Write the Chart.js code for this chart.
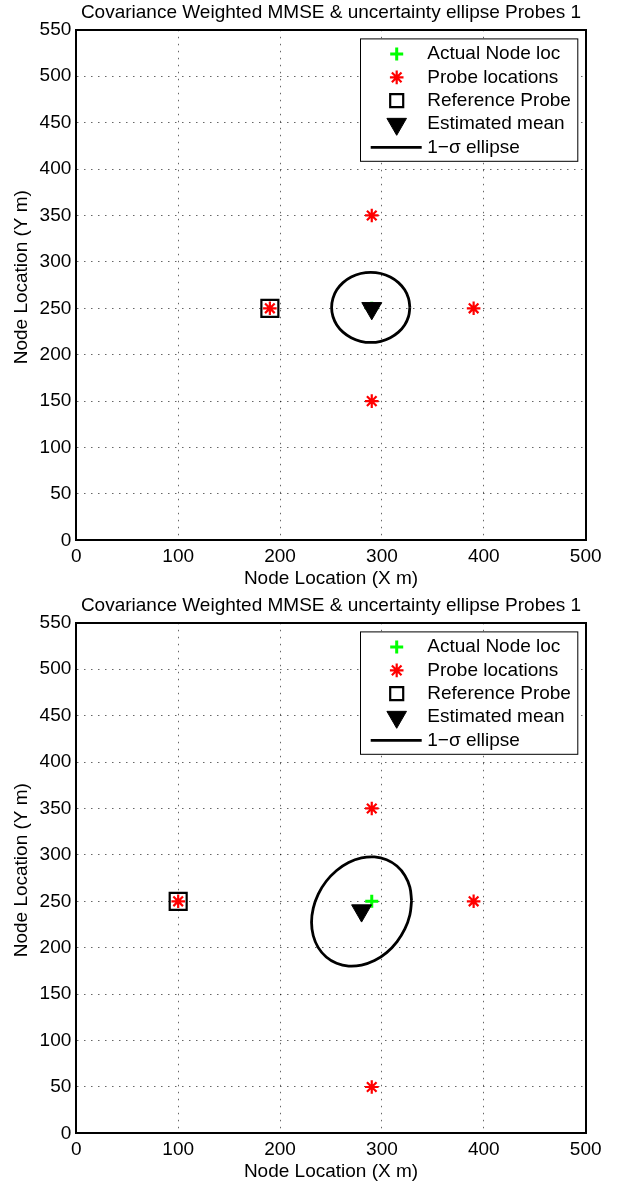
<!DOCTYPE html>
<html>
<head>
<meta charset="utf-8">
<script src="https://cdn.jsdelivr.net/npm/chart.js"></script>
<style>
  html, body { margin: 0; padding: 0; background: #fff; overflow: hidden; }
  .plot { position: absolute; left: 0; width: 626px; height: 593px; }
</style>
</head>
<body>
<div class="plot" style="top:0px"><canvas id="plotTop" width="626" height="593"></canvas></div>
<div class="plot" style="top:593px"><canvas id="plotBottom" width="626" height="593"></canvas></div>
<script>
// axis ticks and texts
const xTicks = [0, 100, 200, 300, 400, 500]
const yTicks = [0, 50, 100, 150, 200, 250, 300, 350, 400, 450, 500, 550]
const plotTitle = 'Covariance Weighted MMSE & uncertainty ellipse Probes 1'
const xTitle = 'Node Location (X m)'
const yTitle = '   Node Location (Y m)'   // leading spaces push it up a bit, like the matlab one
const legendLabels = ['Actual Node loc', 'Probe locations', 'Reference Probe', 'Estimated mean', '1\u2212\u03c3 ellipse']

// top plot
const actualTop = [[290, 250]]
const probesTop = [[190, 250], [290, 350], [390, 250], [290, 150]]
const refProbeTop = [[190, 250]]
const meanTop = [[290, 250]]
const ellipseTopX = [327.4, 326.1, 322.3, 316.2, 308.2, 298.9, 289.0, 279.1, 269.8, 261.8, 255.7, 251.9, 250.6,
    251.9, 255.7, 261.8, 269.8, 279.1, 289.0, 298.9, 308.2, 316.2, 322.3, 326.1, 327.4]
const ellipseTopY = [251.0, 260.8, 269.9, 277.7, 283.7, 287.5, 288.8, 287.5, 283.7, 277.7, 269.9, 260.8, 251.0,
    241.2, 232.1, 224.3, 218.3, 214.5, 213.2, 214.5, 218.3, 224.3, 232.1, 241.2, 251.0]

// bottom plot
const actualBottom = [[290, 250]]
const probesBottom = [[100, 250], [290, 350], [390, 250], [290, 50]]
const refProbeBottom = [[100, 250]]
const meanBottom = [[280, 240]]
const ellipseBottomX = [329.1, 327.4, 322.5, 314.7, 304.6, 292.7, 280.0, 267.3, 255.5, 245.3, 237.5, 232.6, 230.9,
    232.6, 237.5, 245.3, 255.5, 267.3, 280.0, 292.7, 304.6, 314.7, 322.5, 327.4, 329.1]
const ellipseBottomY = [250.6, 265.2, 277.9, 288.0, 294.8, 297.8, 296.7, 291.8, 283.2, 271.6, 257.8, 242.7, 227.4,
    212.9, 200.1, 190.0, 183.2, 180.2, 181.3, 186.2, 194.8, 206.4, 220.2, 235.3, 250.6]


Chart.defaults.font.family = '"Liberation Sans", Arial, Helvetica, sans-serif'
Chart.defaults.font.size = 19
Chart.defaults.color = '#000'

const toPts = (arr) => arr.map(p => ({ x: p[0], y: p[1] }))
const toXY = (xs, ys) => xs.map((x, i) => ({ x: x, y: ys[i] }))

// marker look for the legend (square is smaller there)
const legendMarkers = [
    { pointStyle: 'cross', radius: 6.5, borderWidth: 3, color: '#00ff00', fill: '#00ff00' },
    { pointStyle: 'star', radius: 6.8, borderWidth: 2.2, color: '#ff0000', fill: '#ff0000' },
    { pointStyle: 'rect', radius: 9.2, borderWidth: 2.2, color: '#000', fill: 'rgba(0,0,0,0)' },
    { pointStyle: 'triangle', rotation: 180, radius: 11.3, borderWidth: 1, color: '#000', fill: '#000' },
]

const legendBox = {
    id: 'legendBox',
    afterDraw(chart) {
        const ctx = chart.ctx
        const area = chart.chartArea
        const left = area.right - 225.7
        const top = area.top + 8.6
        const w = 218.3, h = 123.4
        ctx.save()
        ctx.fillStyle = '#fff'
        ctx.fillRect(left, top, w, h)
        ctx.strokeStyle = '#000'
        ctx.lineWidth = 1
        ctx.strokeRect(left + 0.5, top + 0.5, w - 1, h - 1)

        ctx.font = '19px "Liberation Sans", Arial, sans-serif'
        ctx.textBaseline = 'middle'
        ctx.textAlign = 'left'
        legendLabels.forEach((label, i) => {
            const y = top + 15.7 + i * 23.3
            const mx = left + 36.7
            if (i < 4) {
                const m = legendMarkers[i]
                ctx.strokeStyle = m.color
                ctx.fillStyle = m.fill
                ctx.lineWidth = m.borderWidth
                Chart.helpers.drawPoint(ctx, m, mx, y)
            } else {
                ctx.strokeStyle = '#000'
                ctx.lineWidth = 2.8
                ctx.beginPath()
                ctx.moveTo(left + 10.7, y)
                ctx.lineTo(left + 61.7, y)
                ctx.stroke()
            }
            ctx.fillStyle = '#000'
            ctx.fillText(label, left + 67.3, y)
        })
        ctx.restore()
    }
}

const makePlot = function(canvasId, actual, probes, refProbe, mean, ellX, ellY) {

    let data = {
        datasets: [
            {
                label: legendLabels[0],
                data: toPts(actual),
                pointStyle: 'cross',
                pointRadius: 6.5,
                pointBorderWidth: 3,
                borderColor: '#00ff00',
                backgroundColor: '#00ff00',
                order: 3
            },
            {
                label: legendLabels[1],
                data: toPts(probes),
                pointStyle: 'star',
                pointRadius: 6.8,
                pointBorderWidth: 2.2,
                borderColor: '#ff0000',
                backgroundColor: '#ff0000',
                order: 1
            },
            {
                label: legendLabels[2],
                data: toPts(refProbe),
                pointStyle: 'rect',
                pointRadius: 12,
                pointBorderWidth: 2.2,
                borderColor: '#000',
                backgroundColor: 'rgba(0,0,0,0)',
                order: 2
            },
            {
                label: legendLabels[3],
                data: toPts(mean),
                pointStyle: 'triangle',
                rotation: 180,
                pointRadius: 11.5,
                pointBorderWidth: 1,
                borderColor: '#000',
                backgroundColor: '#000',
                order: 0
            },
            {
                label: legendLabels[4],
                data: toXY(ellX, ellY),
                showLine: true,
                pointRadius: 0,
                borderWidth: 2.8,
                borderColor: '#000',
                backgroundColor: '#000',
                tension: 0.4,
                fill: false,
                order: 4
            },
        ]
    }

    const config = {
        type: 'scatter',
        data: data,
        plugins: [legendBox],
        options: {
            responsive: false,
            animation: false,
            events: [],
            layout: {
                padding: { left: 0, right: 40.3, top: 0, bottom: 0 }
            },
            plugins: {
                legend: { display: false },
                tooltip: { enabled: false },
                title: {
                    display: true,
                    text: plotTitle,
                    fullSize: false,
                    color: '#000',
                    font: { size: 19, weight: 'normal' },
                    padding: { top: 1, bottom: 6 }
                }
            },
            scales: {
                x: {
                    type: 'linear',
                    position: 'bottom',
                    min: xTicks[0],
                    max: xTicks[xTicks.length - 1],
                    afterBuildTicks: (scale) => { scale.ticks = xTicks.map(v => ({ value: v })) },
                    afterFit: (scale) => { scale.height = 52.6 },
                    ticks: { padding: 5.3, color: '#000', maxRotation: 0, autoSkip: false },
                    grid: { color: 'rgba(0,0,0,0.6)', lineWidth: 1, drawTicks: false },
                    border: { display: true, color: '#000', width: 2, dash: [1.5, 5.5] },
                    title: { display: true, text: xTitle, color: '#000', padding: { top: 0, bottom: 3.2 } }
                },
                y: {
                    type: 'linear',
                    position: 'left',
                    min: yTicks[0],
                    max: yTicks[yTicks.length - 1],
                    afterBuildTicks: (scale) => { scale.ticks = yTicks.map(v => ({ value: v })) },
                    afterFit: (scale) => { scale.width = 76.3 },
                    ticks: { padding: 5, color: '#000', autoSkip: false },
                    grid: { color: 'rgba(0,0,0,0.6)', lineWidth: 1, drawTicks: false },
                    border: { display: true, color: '#000', width: 2, dash: [1.5, 5.5] },
                    title: { display: true, text: yTitle, color: '#000', padding: { top: 10.6, bottom: 0 } }
                },
                x2: {
                    type: 'linear',
                    position: 'top',
                    min: xTicks[0],
                    max: xTicks[xTicks.length - 1],
                    ticks: { display: false },
                    grid: { display: false, drawTicks: false },
                    border: { display: true, color: '#000', width: 2 },
                    afterFit: (scale) => { scale.height = 0 }
                },
                y2: {
                    type: 'linear',
                    position: 'right',
                    min: yTicks[0],
                    max: yTicks[yTicks.length - 1],
                    ticks: { display: false },
                    grid: { display: false, drawTicks: false },
                    border: { display: true, color: '#000', width: 2 },
                    afterFit: (scale) => { scale.width = 0 }
                }
            }
        }
    }

    new Chart(document.getElementById(canvasId).getContext('2d'), config)
}

makePlot('plotTop', actualTop, probesTop, refProbeTop, meanTop, ellipseTopX, ellipseTopY)
makePlot('plotBottom', actualBottom, probesBottom, refProbeBottom, meanBottom, ellipseBottomX, ellipseBottomY)
</script>
</body>
</html>
